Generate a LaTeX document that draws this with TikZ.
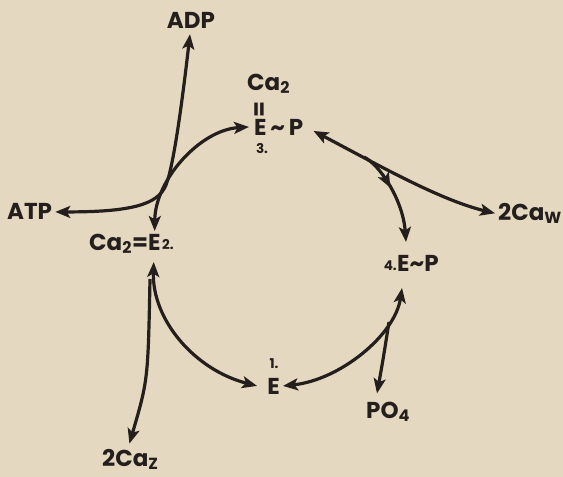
\documentclass[tikz,border=0pt]{standalone}
\usepackage{fontspec}
\setmainfont{Poppins}
\usetikzlibrary{arrows.meta,decorations.markings}
\definecolor{paper}{RGB}{228,217,192}
\definecolor{ink}{RGB}{36,31,28}
\begin{document}
\begin{tikzpicture}[x=1pt,y=-1pt,>={Stealth[length=15pt,width=12pt,inset=3.5pt]},
  lab/.style={font=\fontsize{23}{24}\selectfont\bfseries,text=ink,inner sep=0pt},
  num/.style={font=\fontsize{13.5}{14}\selectfont\bfseries,text=ink,inner sep=0pt},
  flow/.style={draw=ink,line width=3.2pt},
  midarrow/.style={postaction={decorate},decoration={markings,mark=at position #1 with {\arrow{>}}}}]
  \fill[paper] (0,0) rectangle (563,477);
  \useasboundingbox (0,0) rectangle (563,477);
  \node[lab,anchor=base] (adp) at (191,28) {ADP};
  \node[lab,anchor=base west] (atp) at (7,219) {ATP};
  \node[lab,anchor=base west] (catw) at (498,220) {2Ca\textsubscript{W}};
  \node[lab,anchor=base west] (po) at (366,418) {PO\textsubscript{4}};
  \node[lab,anchor=base west] (catz) at (102,466) {2Ca\textsubscript{Z}};
  \node[lab,anchor=base] (eone) at (273.5,394) {E};
  \node[num,anchor=base] (one) at (274,368) {1.};
  \node[lab,anchor=base west] (etwo) at (89,250) {Ca\textsubscript{2}=E};
  \node[num,anchor=base west] (two) at (162,249) {2.};
  \node[lab,anchor=base west] (ethree) at (254,135) {E\,\textasciitilde\,P};
  \node[lab,anchor=base west] (cathree) at (247,90) {Ca\textsubscript{2}};
  \node[lab,rotate=90] (bond) at (261,109) {=};
  \node[num,anchor=base] (three) at (262,153) {3.};
  \node[lab,anchor=base west] (efour) at (397,271) {E\textasciitilde P};
  \node[num,anchor=base east] (four) at (397,270) {4.};
  \coordinate (jtwo) at (150,279);
  \coordinate (jthree) at (364,157);
  \coordinate (jfour) at (389,322);
  \draw[flow,<->] ([xshift=3pt,yshift=-1pt]atp.east) .. controls (130,212) and (158,205) .. (166,185)
    .. controls (174,165) and (183,95) .. ([xshift=-1pt,yshift=-6pt]adp.south);
  \draw[flow,<->] ([xshift=-6pt,yshift=19pt]etwo.base east) .. controls (155,180) and (200,130) .. ([xshift=-5pt]ethree.west);
  \draw[flow,<->] ([xshift=10pt,yshift=-4pt]ethree.east) .. controls (380,166) and (440,200) .. ([xshift=-3pt]catw.west);
  \draw[flow,->,midarrow=0.42] (jthree) .. controls (380,165) and (403,200) .. ([xshift=9pt,yshift=29pt]efour.base west);
  \draw[flow,<->] ([xshift=5pt,yshift=-17pt]efour.base west) .. controls (395,335) and (340,380) .. ([xshift=3pt]eone.east);
  \draw[flow,->] (jfour) .. controls (383,360) .. ([xshift=11pt,yshift=8pt]po.north west);
  \draw[flow,<->] ([xshift=-7pt,yshift=-12pt]etwo.base east) .. controls (152,320) and (195,370) .. ([xshift=-10pt]eone.west);
  \draw[flow,->] (jtwo) .. controls (148,380) .. ([xshift=-1pt,yshift=5pt]catz.north);
\end{tikzpicture}
\end{document}
